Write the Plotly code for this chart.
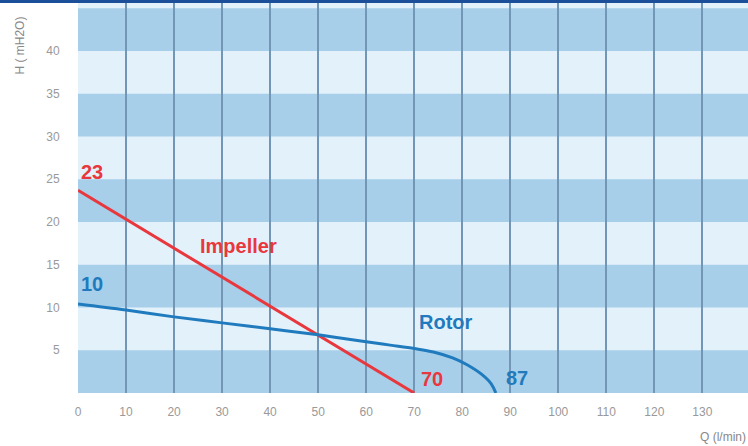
import plotly.graph_objects as go

# Data
impeller_q = [0, 70]
impeller_h = [23.7, 0]
rotor_q = [0, 10, 20, 30, 40, 50, 60, 65, 70, 74, 78, 81, 84, 86, 87]
rotor_h = [10.4, 9.7, 8.9, 8.2, 7.5, 6.8, 6.0, 5.6, 5.2, 4.8, 4.1, 3.3, 2.2, 1.1, 0]
x_ticks = [0, 10, 20, 30, 40, 50, 60, 70, 80, 90, 100, 110, 120, 130]
y_ticks = [5, 10, 15, 20, 25, 30, 35, 40]
impeller_labels = ["23", "70"]
rotor_labels = ["10", "87"]

RED = "#e8383d"
BLUE = "#1f7bbd"
DARK = "#a7cfea"
LIGHT = "#e3f1fb"
LABEL_FONT = "Liberation Sans, Arial, sans-serif"

fig = go.Figure()
fig.add_trace(go.Scatter(x=impeller_q, y=impeller_h, mode="lines",
                         line=dict(color=RED, width=3), hoverinfo="skip"))
fig.add_trace(go.Scatter(x=rotor_q, y=rotor_h, mode="lines",
                         line=dict(color=BLUE, width=3, shape="spline", smoothing=1.0),
                         hoverinfo="skip"))

# horizontal bands
ymax = 45.6
edges = [0] + y_ticks + [45, ymax]
for i in range(len(edges) - 1):
    if i % 2 == 0:
        fig.add_shape(type="rect", xref="paper", yref="y", x0=0, x1=1,
                      y0=edges[i], y1=edges[i + 1], fillcolor=DARK,
                      line=dict(width=0), layer="below")

# top navy bar
fig.add_shape(type="rect", xref="paper", yref="paper", x0=-0.2, x1=1.0,
              y0=1.0, y1=1.0 + 3 / 390, fillcolor="#1b4f9a",
              line=dict(width=0))

def lab(x, y, text, color):
    fig.add_annotation(x=x, y=y, xref="x", yref="y", text="<b>%s</b>" % text,
                       showarrow=False, xanchor="left", yanchor="middle",
                       font=dict(family=LABEL_FONT, size=20, color=color))

lab(0.2, 25.8, impeller_labels[0], RED)
lab(25.0, 17.2, "Impeller", RED)
lab(71.0, 1.6, impeller_labels[1], RED)
lab(0.2, 12.8, rotor_labels[0], BLUE)
lab(70.6, 8.3, "Rotor", BLUE)
lab(88.6, 1.7, rotor_labels[1], BLUE)

fig.add_annotation(xref="paper", yref="paper", x=-0.087, y=0.89,
                   xanchor="center", yanchor="middle", text="H ( mH2O)",
                   showarrow=False, textangle=-90,
                   font=dict(family="Liberation Sans", size=12, color="#888"))
fig.add_annotation(xref="paper", yref="paper", x=1.0, y=-0.113,
                   text="Q (l/min)", showarrow=False, xanchor="right", yanchor="middle",
                   font=dict(family="Liberation Sans", size=12, color="#888"))

fig.update_layout(
    width=748, height=446,
    margin=dict(l=78, r=0, t=3, b=53),
    paper_bgcolor="white", plot_bgcolor=LIGHT,
    showlegend=False,
    xaxis=dict(range=[0, 139.5], tickvals=x_ticks, showgrid=True,
               gridcolor="#7296b6", gridwidth=1.5, zeroline=False, showline=False,
               ticks="outside", ticklen=8, tickcolor="rgba(0,0,0,0)",
               tickfont=dict(family="Liberation Sans", size=12, color="#999")),
    yaxis=dict(range=[0, ymax], tickvals=y_ticks, showgrid=False, zeroline=False,
               showline=False, ticks="outside", ticklen=15, tickcolor="rgba(0,0,0,0)",
               tickfont=dict(family="Liberation Sans", size=12, color="#999")),
)

fig.write_html("out.html", config={"displayModeBar": False},
               post_script="document.body.style.margin='0';document.body.style.overflow='hidden';")
